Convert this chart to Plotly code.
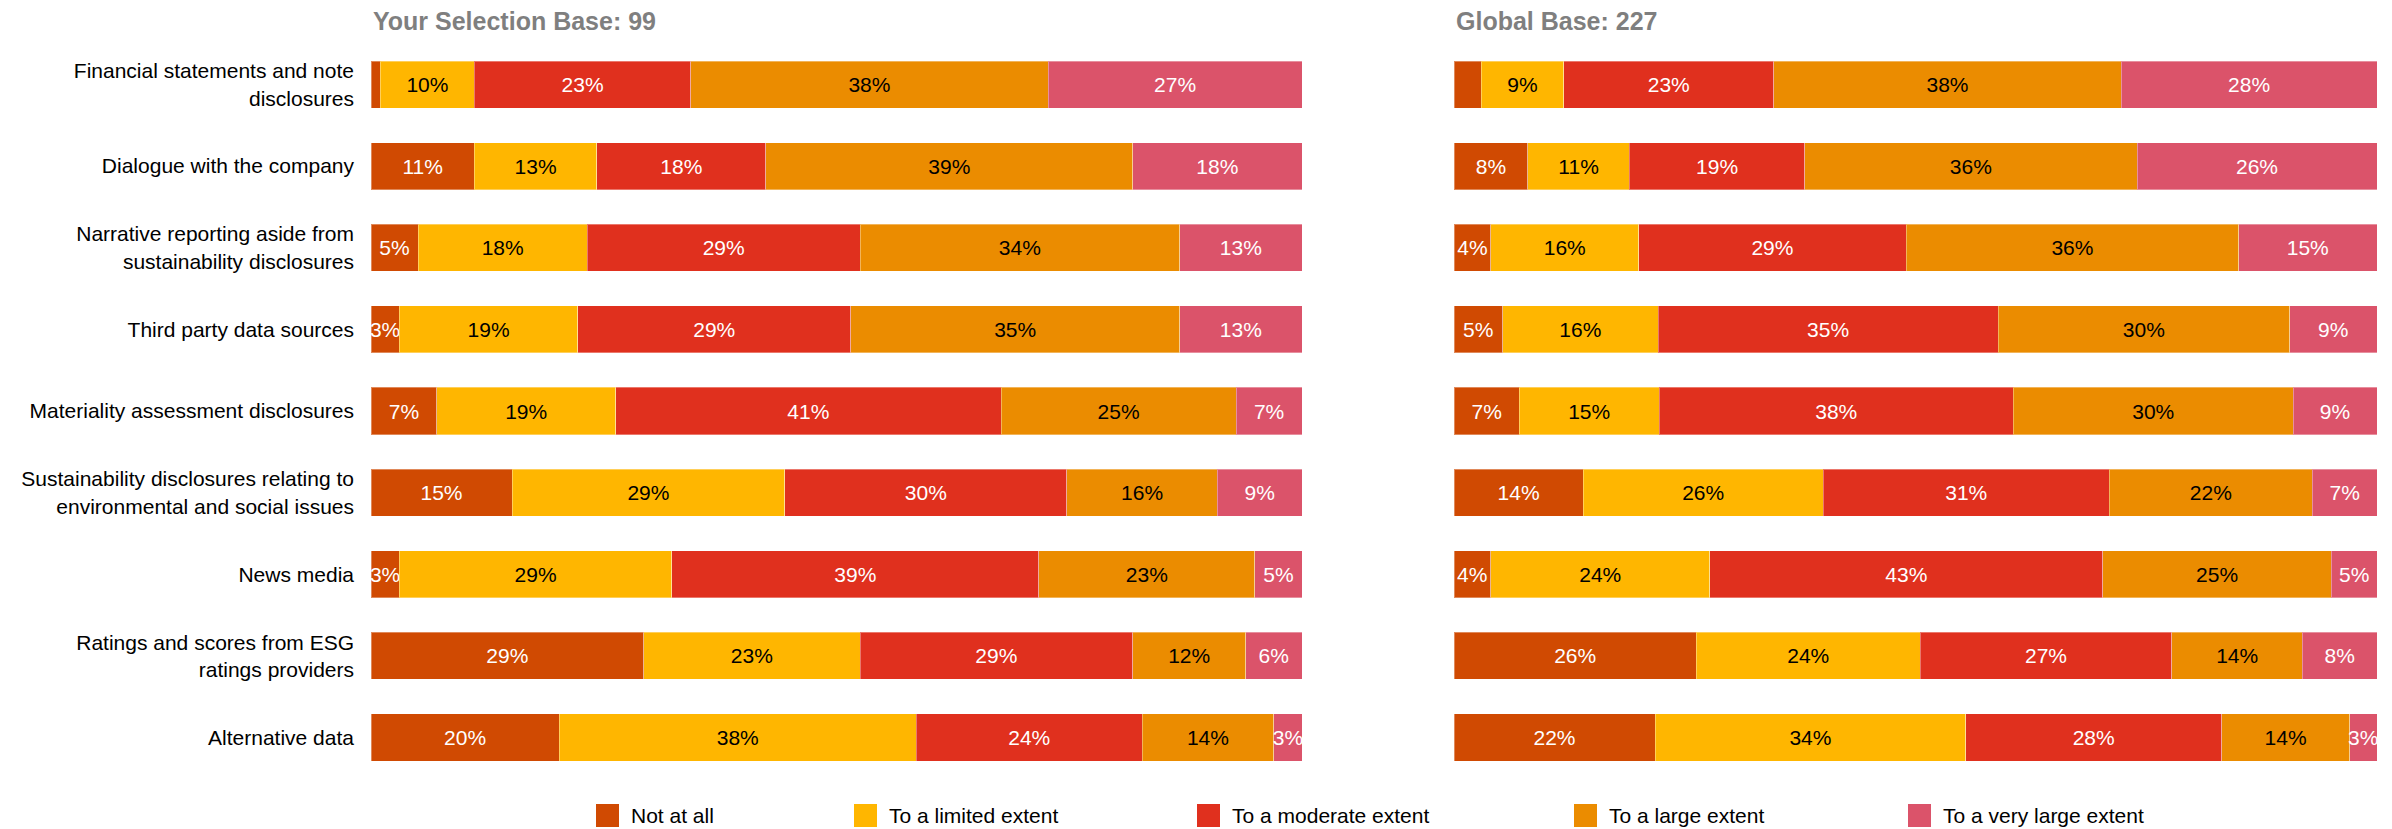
import plotly.graph_objects as go

# Response levels, colours and label colours
levels = ["Not at all", "To a limited extent", "To a moderate extent",
          "To a large extent", "To a very large extent"]
level_colors = ["#D04A02", "#FFB600", "#E0301E", "#EB8C00", "#DB536A"]
label_colors = ["white", "black", "white", "black", "white"]

# Information sources (top to bottom)
sources = [
    "Financial statements and note<br>disclosures",
    "Dialogue with the company",
    "Narrative reporting aside from<br>sustainability disclosures",
    "Third party data sources",
    "Materiality assessment disclosures",
    "Sustainability disclosures relating to<br>environmental and social issues",
    "News media",
    "Ratings and scores from ESG<br>ratings providers",
    "Alternative data",
]

# Percentages per source, ordered as in `levels`
selection_values = [
    [1, 10, 23, 38, 27],
    [11, 13, 18, 39, 18],
    [5, 18, 29, 34, 13],
    [3, 19, 29, 35, 13],
    [7, 19, 41, 25, 7],
    [15, 29, 30, 16, 9],
    [3, 29, 39, 23, 5],
    [29, 23, 29, 12, 6],
    [20, 38, 24, 14, 3],
]
global_values = [
    [3, 9, 23, 38, 28],
    [8, 11, 19, 36, 26],
    [4, 16, 29, 36, 15],
    [5, 16, 35, 30, 9],
    [7, 15, 38, 30, 9],
    [14, 26, 31, 22, 7],
    [4, 24, 43, 25, 5],
    [26, 24, 27, 14, 8],
    [22, 34, 28, 14, 3],
]
# (row, level) cells printed without a value label
selection_unlabelled = {(0, 0)}
global_unlabelled = {(0, 0)}

panel_titles = ["Your Selection Base: 99", "Global Base: 227"]

W, H = 2392, 829
FONT = "Arial, Liberation Sans, sans-serif"

fig = go.Figure()

panels = [
    (selection_values, selection_unlabelled, "x", "y"),
    (global_values, global_unlabelled, "x2", "y2"),
]
for values, unlabelled, xa, ya in panels:
    for j, level in enumerate(levels):
        xs = [row[j] for row in values]
        texts = ["" if (i, j) in unlabelled else f"{v}%" for i, v in enumerate(xs)]
        fig.add_trace(go.Bar(
            x=xs, y=sources, orientation="h", name=level,
            xaxis=xa, yaxis=ya, showlegend=False,
            marker=dict(color=level_colors[j],
                        line=dict(color="rgba(255,255,255,0.35)", width=1)),
            text=texts, textposition="inside", insidetextanchor="middle",
            textangle=0, textfont=dict(color=label_colors[j], size=21, family=FONT),
            cliponaxis=False, hoverinfo="skip",
        ))

px = lambda p: p / W
py = lambda p: 1 - p / H

# normalised stacks end at 100; a hair of headroom keeps float round-off inside the range
x_range = [0, 100.0001]
y_dom = [py(778.3), py(43.7)]
fig.update_layout(
    width=W, height=H,
    margin=dict(l=0, r=0, t=0, b=0),
    paper_bgcolor="white", plot_bgcolor="white",
    barmode="stack", barnorm="percent", bargap=0.424,
    uniformtext=dict(minsize=21, mode="show"),
    font=dict(family=FONT, size=21, color="black"),
    xaxis=dict(domain=[px(371), px(1302)], range=x_range, visible=False, fixedrange=True),
    xaxis2=dict(domain=[px(1454), px(2377)], range=x_range, visible=False, fixedrange=True),
    yaxis=dict(domain=y_dom, anchor="x", autorange="reversed", showgrid=False,
               showline=False, zeroline=False, ticks="", ticklabelstandoff=16,
               tickfont=dict(size=21, color="black", family=FONT)),
    yaxis2=dict(domain=y_dom, anchor="x2", autorange="reversed", showgrid=False,
                showline=False, zeroline=False, showticklabels=False),
)

# Panel headings
for title, x0 in zip(panel_titles, [371, 1454]):
    fig.add_annotation(
        text=f"<b>{title}</b>", xref="paper", yref="paper",
        x=px(x0), y=py(21.5), xanchor="left", yanchor="middle",
        showarrow=False, font=dict(size=25, color="#7F7F7F", family=FONT),
    )

# Legend row
legend_x = [596, 854, 1197, 1574, 1908]
for level, color, x0 in zip(levels, level_colors, legend_x):
    fig.add_shape(type="rect", xref="paper", yref="paper",
                  x0=px(x0), x1=px(x0 + 23), y0=py(827), y1=py(804),
                  fillcolor=color, line=dict(width=0))
    fig.add_annotation(
        text=level, xref="paper", yref="paper",
        x=px(x0 + 33), y=py(815.5), xanchor="left", yanchor="middle",
        showarrow=False, font=dict(size=21, color="black", family=FONT),
    )

fig.write_html("out.html")
